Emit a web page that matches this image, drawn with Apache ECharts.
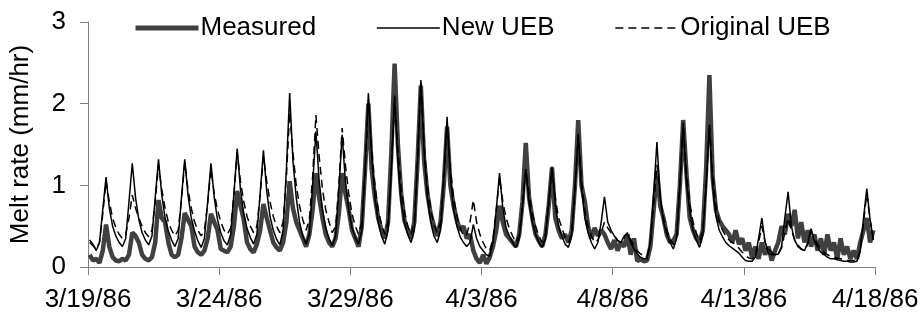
<!DOCTYPE html>
<html>
<head>
<meta charset="utf-8">
<script src="https://cdn.jsdelivr.net/npm/echarts@6/dist/echarts.min.js"></script>
<style>
html,body{margin:0;padding:0;background:#fff;}
#chart{width:922px;height:317px;}
</style>
</head>
<body>
<div id="chart"></div>
<script>
// x values are hours since 3/19/86 00:00; one sample every 3 h (1.5, 4.5, ... 718.5)
const startHour = 1.5;
const stepHours = 3;
const tickLabels = ['3/19/86','3/24/86','3/29/86','4/3/86','4/8/86','4/13/86','4/18/86'];
const seriesNames = ['Measured','New UEB','Original UEB'];

// Measured melt rate (mm/hr), 8 samples per day, 3/19 .. 4/17
const measured = [
  .15,.08,.10,.05,.20,.52,.25,.12,
  .08,.07,.10,.08,.15,.42,.38,.30,
  .15,.10,.08,.12,.30,.82,.60,.55,
  .30,.15,.12,.15,.35,.66,.58,.50,
  .25,.18,.15,.20,.35,.65,.55,.45,
  .22,.20,.18,.25,.50,.93,.75,.58,
  .30,.22,.18,.28,.45,.77,.60,.45,
  .30,.24,.20,.30,.55,1.05,.72,.55,
  .45,.35,.25,.40,.70,1.15,.85,.60,
  .40,.30,.25,.35,.65,1.15,.90,.70,
  .45,.35,.25,.50,1.20,2.00,1.20,.85,
  .60,.45,.35,.55,1.40,2.49,1.50,.90,
  .57,.45,.35,.55,1.30,2.22,1.30,.90,
  .65,.50,.38,.55,1.00,1.72,1.00,.75,
  .57,.45,.50,.35,.40,.20,.10,.05,
  .15,.04,.12,.25,.45,.75,.55,.40,
  .35,.30,.25,.40,.80,1.52,.85,.60,
  .40,.32,.25,.40,.75,1.22,.60,.45,
  .35,.40,.30,.45,1.00,1.80,1.00,.80,
  .50,.35,.48,.38,.45,.40,.30,.22,
  .33,.20,.30,.25,.40,.15,.35,.07,
  .10,.07,.08,.25,.70,1.18,.75,.60,
  .40,.30,.32,.40,1.00,1.80,1.15,.60,
  .45,.35,.30,.45,1.20,2.35,1.10,.70,
  .57,.50,.45,.40,.30,.45,.28,.35,
  .20,.30,.12,.25,.10,.30,.15,.25,
  .08,.20,.30,.50,.40,.65,.50,.70,
  .35,.55,.30,.45,.25,.40,.20,.35,
  .15,.40,.20,.30,.10,.35,.15,.25,
  .10,.20,.10,.30,.45,.60,.30,.45
];

// New UEB model melt rate (mm/hr)
const newUEB = [
  .33,.28,.20,.30,.70,1.10,.72,.50,
  .38,.30,.25,.35,.80,1.27,.85,.58,
  .42,.33,.27,.38,.85,1.32,.88,.60,
  .44,.33,.25,.35,.85,1.32,.88,.60,
  .44,.32,.24,.35,.80,1.27,.85,.58,
  .42,.32,.27,.40,.90,1.45,.95,.65,
  .47,.36,.28,.40,.90,1.43,.93,.62,
  .45,.34,.27,.45,1.20,2.13,1.30,.85,
  .55,.38,.28,.40,1.00,1.66,1.05,.70,
  .48,.35,.26,.38,.95,1.62,1.05,.70,
  .48,.36,.28,.45,1.20,2.13,1.35,.85,
  .55,.38,.28,.45,1.20,2.08,1.30,.80,
  .55,.40,.30,.45,1.30,2.29,1.40,.85,
  .55,.38,.30,.45,1.10,1.84,1.10,.70,
  .50,.37,.30,.25,.30,.52,.35,.25,
  .20,.15,.13,.30,.70,1.15,.72,.48,
  .38,.30,.24,.35,.75,1.20,.80,.55,
  .40,.30,.24,.35,.80,1.23,.75,.50,
  .38,.28,.24,.38,.95,1.63,.95,.60,
  .42,.30,.22,.30,.55,.86,.55,.45,
  .38,.32,.30,.38,.41,.30,.22,.16,
  .12,.10,.10,.30,.90,1.53,.85,.55,
  .40,.30,.22,.35,1.00,1.77,1.05,.68,
  .45,.33,.24,.40,1.00,1.74,1.00,.62,
  .45,.37,.30,.26,.23,.20,.17,.12,
  .08,.07,.07,.12,.35,.60,.30,.17,
  .15,.15,.16,.25,.60,.92,.50,.33,
  .25,.22,.20,.30,.47,.32,.24,.18,
  .15,.12,.10,.10,.09,.08,.07,.07,
  .06,.06,.07,.20,.60,.96,.58,.33
];

// Original UEB model melt rate (mm/hr)
const originalUEB = [
  .30,.26,.22,.30,.65,1.05,.80,.60,
  .48,.40,.35,.40,.60,.88,.72,.60,
  .50,.42,.37,.45,.80,1.25,.95,.72,
  .55,.45,.38,.45,.82,1.28,.95,.72,
  .55,.45,.38,.45,.78,1.20,.90,.70,
  .55,.45,.40,.48,.88,1.40,1.05,.80,
  .62,.50,.42,.50,.88,1.35,1.05,.80,
  .62,.50,.42,.55,1.10,1.90,1.40,1.00,
  .75,.58,.45,.58,1.10,1.86,1.35,.95,
  .70,.55,.42,.50,1.00,1.70,1.25,.90,
  .65,.50,.40,.55,1.15,2.05,1.45,1.00,
  .70,.52,.40,.55,1.20,2.10,1.45,.95,
  .68,.50,.40,.55,1.30,2.28,1.50,1.00,
  .70,.52,.42,.55,1.05,1.75,1.20,.85,
  .62,.48,.38,.40,.55,.82,.55,.40,
  .30,.22,.20,.35,.70,1.10,.80,.60,
  .47,.38,.30,.40,.75,1.20,.90,.65,
  .50,.38,.30,.40,.78,1.20,.85,.60,
  .48,.36,.30,.42,.95,1.62,1.05,.70,
  .50,.38,.30,.33,.42,.55,.48,.42,
  .38,.33,.30,.36,.42,.34,.26,.20,
  .16,.14,.13,.30,.75,1.25,.85,.60,
  .45,.35,.27,.38,1.00,1.75,1.15,.78,
  .55,.42,.32,.45,1.00,1.75,1.15,.75,
  .55,.45,.38,.33,.30,.27,.23,.18,
  .14,.11,.10,.13,.30,.50,.30,.22,
  .18,.15,.16,.23,.42,.60,.45,.33,
  .27,.22,.20,.28,.43,.35,.28,.22,
  .18,.15,.13,.12,.11,.10,.09,.08,
  .08,.08,.08,.20,.55,.90,.58,.35
];

function pairs(vals){
  return vals.map((v,i)=>[startHour + i*stepHours, v]);
}

const FONT = 'Liberation Sans, Arial, sans-serif';
const FS = 26;
const chart = echarts.init(document.getElementById('chart'), null, {renderer:'canvas'});
chart.setOption({
  animation:false,
  backgroundColor:'#ffffff',
  textStyle:{fontFamily:FONT},
  legend:{
    left:128, top:10,
    itemWidth:63, itemHeight:14, itemGap:60,
    itemStyle:{opacity:0},
    textStyle:{fontFamily:FONT,fontSize:FS,color:'#000',padding:[0,0,0,-3]},
    data:[
      {name:seriesNames[0],lineStyle:{width:5,color:'#404040',type:'solid'}},
      {name:seriesNames[1],lineStyle:{width:1.5,color:'#000',type:'solid'}},
      {name:seriesNames[2],lineStyle:{width:1.5,color:'#000',type:[8,5]}}
    ]
  },
  grid:{left:87,right:47,top:22,bottom:50,containLabel:false},
  xAxis:{
    type:'value', min:0, max:720, interval:120,
    axisLine:{show:true,lineStyle:{color:'#808080',width:1}},
    axisTick:{show:true,length:8,lineStyle:{color:'#808080'}},
    splitLine:{show:false},
    axisLabel:{fontFamily:FONT,fontSize:FS,color:'#000',margin:20,
      formatter:v=>tickLabels[Math.round(v/120)]}
  },
  yAxis:{
    type:'value', min:0, max:3, interval:1,
    name:'Melt rate (mm/hr)', nameLocation:'middle', nameGap:54,
    nameTextStyle:{fontFamily:FONT,fontSize:FS,color:'#000'},
    axisLine:{show:true,lineStyle:{color:'#808080',width:1}},
    axisTick:{show:true,length:8,lineStyle:{color:'#808080'}},
    splitLine:{show:false},
    axisLabel:{fontFamily:FONT,fontSize:FS,color:'#000',margin:22}
  },
  series:[
    {name:seriesNames[0],type:'line',symbol:'none',data:pairs(measured),
     lineStyle:{color:'#404040',width:4.5},itemStyle:{color:'#404040'},z:1},
    {name:seriesNames[1],type:'line',symbol:'none',data:pairs(newUEB),
     lineStyle:{color:'#000',width:1.5},itemStyle:{color:'#000'},z:3},
    {name:seriesNames[2],type:'line',symbol:'none',data:pairs(originalUEB),
     lineStyle:{color:'#000',width:1.5,type:[8,5]},itemStyle:{color:'#000'},z:2}
  ]
});
</script>
</body>
</html>
